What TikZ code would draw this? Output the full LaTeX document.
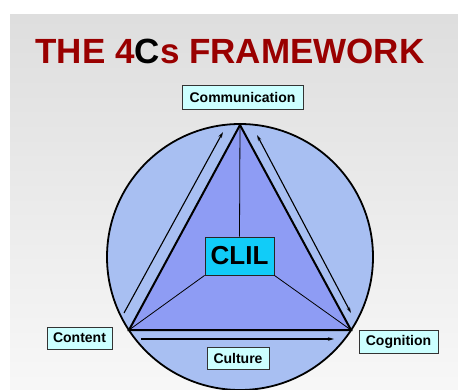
\documentclass[tikz,border=0pt]{standalone}
\usepackage{fontspec}
\setmainfont{Liberation Sans}
\usetikzlibrary{arrows.meta}
\definecolor{titlered}{HTML}{990000}
\definecolor{circblue}{HTML}{A8BFF2}
\definecolor{triblue}{HTML}{8E9CF4}
\definecolor{clilcyan}{HTML}{11CCF8}
\definecolor{labcyan}{HTML}{CCFFFF}
\tikzset{
  lab/.style={draw=black!80, line width=0.8pt, fill=labcyan, inner sep=0pt,
    font=\fontsize{14}{16}\selectfont\bfseries},
  flow/.style={line width=1.1pt, -{Stealth[length=6pt,width=3.5pt]}},
  flowboth/.style={line width=1.1pt, {Stealth[length=6pt,width=3.5pt]}-{Stealth[length=6pt,width=3.5pt]}},
}
\begin{document}
\begin{tikzpicture}[x=1pt,y=-1pt]
\useasboundingbox (0,0) rectangle (458,389);
% background panel
\shade[top color=black!13, bottom color=black!3] (10,14) rectangle (458,389);
% title
\node[font=\fontsize{35}{37}\selectfont\bfseries, text=titlered, inner sep=0pt] (title) at (230,51)
  {THE 4\textcolor{black}{C}s FRAMEWORK};
% circle
\coordinate (O) at (240,257);
\fill[circblue] (O) circle (133);
\draw[line width=1.8pt] (O) circle (133);
% triangle
\coordinate (A) at (240,125);
\coordinate (L) at (129,330);
\coordinate (R) at (351,330);
\fill[triblue] (A) -- (L) -- (R) -- cycle;
% CLIL box
\node[draw=black!85, line width=0.9pt, fill=clilcyan, minimum width=69pt, minimum height=38pt, inner sep=0pt,
  font=\fontsize{26}{28}\selectfont\bfseries] (clil) at (239.5,256) {CLIL};
\draw[line width=0.8pt] (A) -- (clil.north);
\draw[line width=0.8pt] (clil.south west) -- (L);
\draw[line width=0.8pt] (clil.south east) -- (R);
\draw[line width=2pt, line join=miter] (A) -- (L) -- (R) -- cycle;
% arrows
\coordinate (a1s) at (124,313);
\coordinate (a1e) at (223,132);
\coordinate (a2s) at (257,135);
\coordinate (a2e) at (351,313);
\coordinate (a3s) at (141,339);
\coordinate (a3e) at (334,339);
\draw[flow] (a1s) -- (a1e);
\draw[flowboth] (a2s) -- (a2e);
\draw[flow] (a3s) -- (a3e);
% labels
\node[lab, minimum width=121pt, minimum height=24pt] (comm) at (242.5,97) {Communication};
\node[lab, minimum width=65pt, minimum height=22pt] (content) at (79.5,338) {Content};
\node[lab, minimum width=79pt, minimum height=23pt] (cognition) at (398.5,341.5) {Cognition};
\node[lab, minimum width=62pt, minimum height=22pt] (culture) at (238,358) {Culture};
\end{tikzpicture}
\end{document}
